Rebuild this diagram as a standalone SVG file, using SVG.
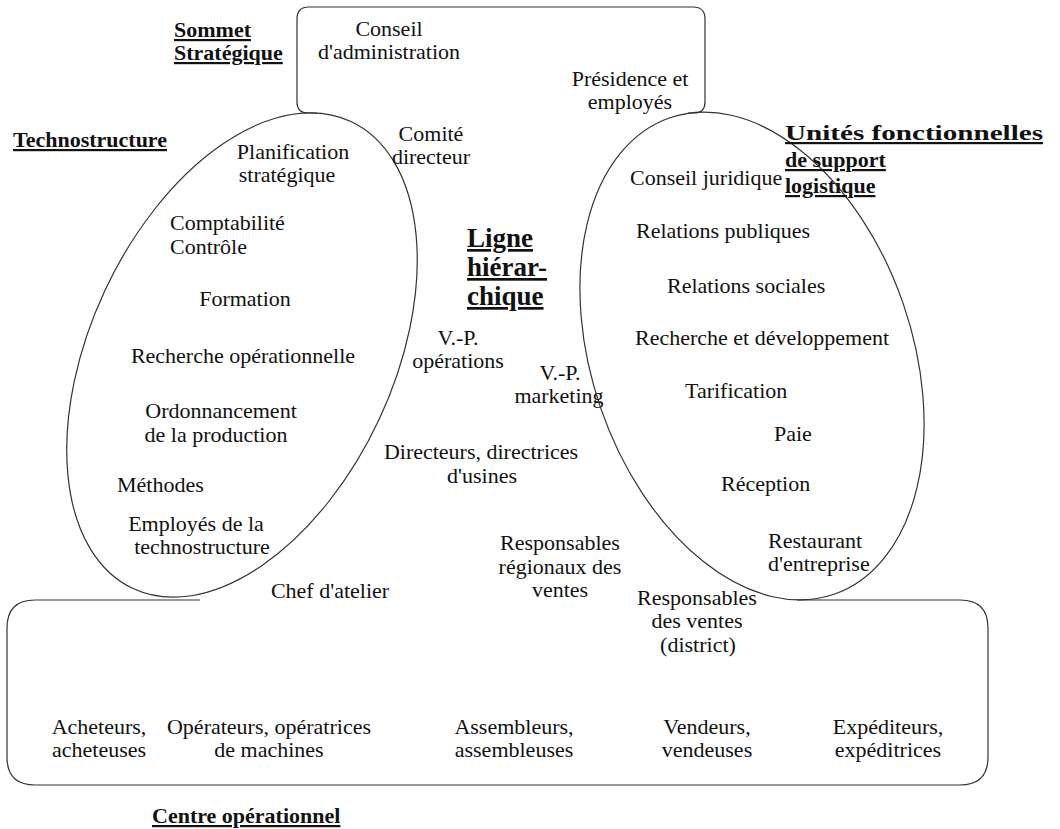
<svg xmlns="http://www.w3.org/2000/svg" width="1060" height="829" viewBox="0 0 1060 829">
<style>
.s{fill:none;stroke:#333;stroke-width:1.2}
text{font-family:"Liberation Serif","Times New Roman",serif;font-size:22px;fill:#111}
.c{text-anchor:middle}
.b{font-weight:bold;text-decoration:underline}
.lh{font-size:27px}
</style>
<rect width="1060" height="829" fill="#fff"/>
<g id="sommet-strategique">
<path class="s" d="M317 113 L308 113 Q297 113 297 102 L297 19 Q297 7 309 7 L693 7 Q705 7 705 19 L705 102 Q705 113 694 113 L688 113"/>
<text class="b" x="174" y="37">Sommet</text>
<text class="b" x="174" y="60">Stratégique</text>
<text class="c" x="389" y="36">Conseil</text>
<text class="c" x="389" y="59">d'administration</text>
<text class="c" x="630" y="86">Présidence et</text>
<text class="c" x="630" y="109">employés</text>
</g>
<g id="technostructure">
<ellipse class="s" cx="242" cy="355" rx="151.5" ry="257.7" transform="rotate(25 242 355)"/>
<text class="b" x="13" y="147">Technostructure</text>
<text class="c" x="293" y="159">Planification</text>
<text class="c" x="287" y="182">stratégique</text>
<text x="170" y="230">Comptabilité</text>
<text x="170" y="254">Contrôle</text>
<text class="c" x="245" y="306">Formation</text>
<text class="c" x="243" y="363">Recherche opérationnelle</text>
<text class="c" x="221" y="418">Ordonnancement</text>
<text class="c" x="216" y="442">de la production</text>
<text x="117" y="492">Méthodes</text>
<text class="c" x="196" y="531">Employés de la</text>
<text class="c" x="202" y="554">technostructure</text>
</g>
<g id="ligne-hierarchique">
<text class="b lh" x="467" y="247">Ligne</text>
<text class="b lh" x="467" y="276">hiérar-</text>
<text class="b lh" x="467" y="305">chique</text>
<text class="c" x="431" y="141">Comité</text>
<text class="c" x="431" y="164">directeur</text>
<text class="c" x="458" y="345">V.-P.</text>
<text class="c" x="458" y="368">opérations</text>
<text class="c" x="560" y="380">V.-P.</text>
<text class="c" x="559" y="403">marketing</text>
<text class="c" x="481" y="459">Directeurs, directrices</text>
<text class="c" x="482" y="483">d'usines</text>
<text class="c" x="560" y="550">Responsables</text>
<text class="c" x="560" y="574">régionaux des</text>
<text class="c" x="560" y="597">ventes</text>
<text class="c" x="330" y="598">Chef d'atelier</text>
<text class="c" x="697" y="605">Responsables</text>
<text class="c" x="697" y="628">des ventes</text>
<text class="c" x="698" y="652">(district)</text>
</g>
<g id="unites-support">
<ellipse class="s" cx="752" cy="356" rx="160" ry="252" transform="rotate(-19 752 356)"/>
<text class="b" x="785" y="140" textLength="258" lengthAdjust="spacingAndGlyphs">Unités fonctionnelles</text>
<text class="b" x="785" y="167">de support</text>
<text class="b" x="785" y="193">logistique</text>
<text x="630" y="185">Conseil juridique</text>
<text x="636" y="238">Relations publiques</text>
<text x="667" y="293">Relations sociales</text>
<text x="635" y="345">Recherche et développement</text>
<text x="685" y="398">Tarification</text>
<text x="774" y="441">Paie</text>
<text x="721" y="491">Réception</text>
<text x="768" y="548">Restaurant</text>
<text x="768" y="571">d'entreprise</text>
</g>
<g id="centre-operationnel">
<path class="s" d="M200 600 L35 600 Q7 600 7 628 L7 757 Q7 785 35 785 L960 785 Q988 785 988 757 L988 628 Q988 600 960 600 L797 600"/>
<text class="c" x="99" y="734">Acheteurs,</text>
<text class="c" x="99" y="757">acheteuses</text>
<text class="c" x="269" y="734">Opérateurs, opératrices</text>
<text class="c" x="269" y="757">de machines</text>
<text class="c" x="514" y="734">Assembleurs,</text>
<text class="c" x="514" y="757">assembleuses</text>
<text class="c" x="707" y="734">Vendeurs,</text>
<text class="c" x="707" y="757">vendeuses</text>
<text class="c" x="888" y="734">Expéditeurs,</text>
<text class="c" x="888" y="757">expéditrices</text>
<text class="b" x="152" y="823">Centre opérationnel</text>
</g>
<g id="connectors"/>
</svg>
